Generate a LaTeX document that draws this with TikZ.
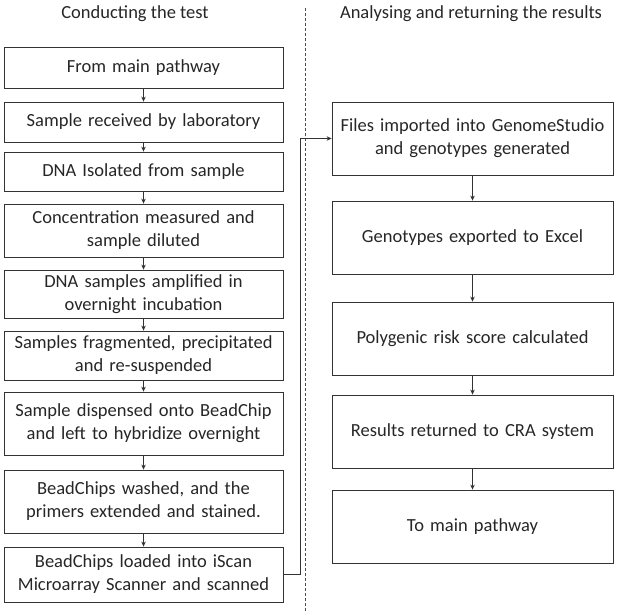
\documentclass[tikz,border=0pt]{standalone}
\usepackage{fontspec}
\setmainfont{Carlito}
\usetikzlibrary{arrows.meta}

\tikzset{
  stepbox/.style={draw=black!80, line width=0.8pt, align=center, inner sep=2pt,
    font=\fontsize{18.5}{23}\selectfont, text=black!85},
  leftbox/.style={stepbox, minimum width=279pt, text width=275pt},
  rightbox/.style={stepbox, minimum width=281pt, minimum height=73pt, text width=275pt},
  heading/.style={font=\fontsize{18.5}{23}\selectfont, text=black!85},
  flow/.style={draw=black!80, line width=0.8pt, -{Stealth[length=5pt, width=4.5pt]}}
}

\begin{document}
\begin{tikzpicture}[x=1pt,y=-1pt]
\useasboundingbox (0,0) rectangle (617,612);
\node[heading] (lhead) at (135,14) {Conducting the test};
\node[heading] (rhead) at (471,14) {Analysing and returning the results};
\draw[black!70, line width=0.6pt, dash pattern=on 3pt off 2pt] (305,8) -- (305,612);
% left column
\node[leftbox, minimum height=41pt] (l1) at (143.5,67.5) {From main pathway};
\node[leftbox, minimum height=40pt] (l2) at (143.5,122) {Sample received by laboratory};
\node[leftbox, minimum height=39pt] (l3) at (143.5,171.5) {DNA Isolated from sample};
\node[leftbox, minimum height=53pt] (l4) at (143.5,230.5) {Concentration measured and\\sample diluted};
\node[leftbox, minimum height=48pt] (l5) at (143.5,294) {DNA samples amplified in\\overnight incubation};
\node[leftbox, minimum height=49pt] (l6) at (143.5,355.5) {Samples fragmented, precipitated\\and re-suspended};
\node[leftbox, minimum height=63pt] (l7) at (143.5,423.5) {Sample dispensed onto BeadChip\\and left to hybridize overnight};
\node[leftbox, minimum height=63pt] (l8) at (143.5,501.5) {BeadChips washed, and the\\primers extended and stained.};
\node[leftbox, minimum height=55pt] (l9) at (143.5,574.5) {BeadChips loaded into iScan\\Microarray Scanner and scanned};
% right column
\node[rightbox] (r1) at (472.5,138.5) {Files imported into GenomeStudio\\and genotypes generated};
\node[rightbox] (r2) at (472.5,237.5) {Genotypes exported to Excel};
\node[rightbox] (r3) at (472.5,338.5) {Polygenic risk score calculated};
\node[rightbox] (r4) at (472.5,431.5) {Results returned to CRA system};
\node[rightbox] (r5) at (472.5,526.5) {To main pathway};
\foreach \a/\b in {l1/l2,l2/l3,l3/l4,l4/l5,l5/l6,l6/l7,l7/l8,l8/l9,r1/r2,r2/r3,r3/r4,r4/r5}
  \draw[flow] (\a) -- (\b);
\draw[flow] (l9.east) -- ++(17,0) |- (r1.west);
\end{tikzpicture}
\end{document}
